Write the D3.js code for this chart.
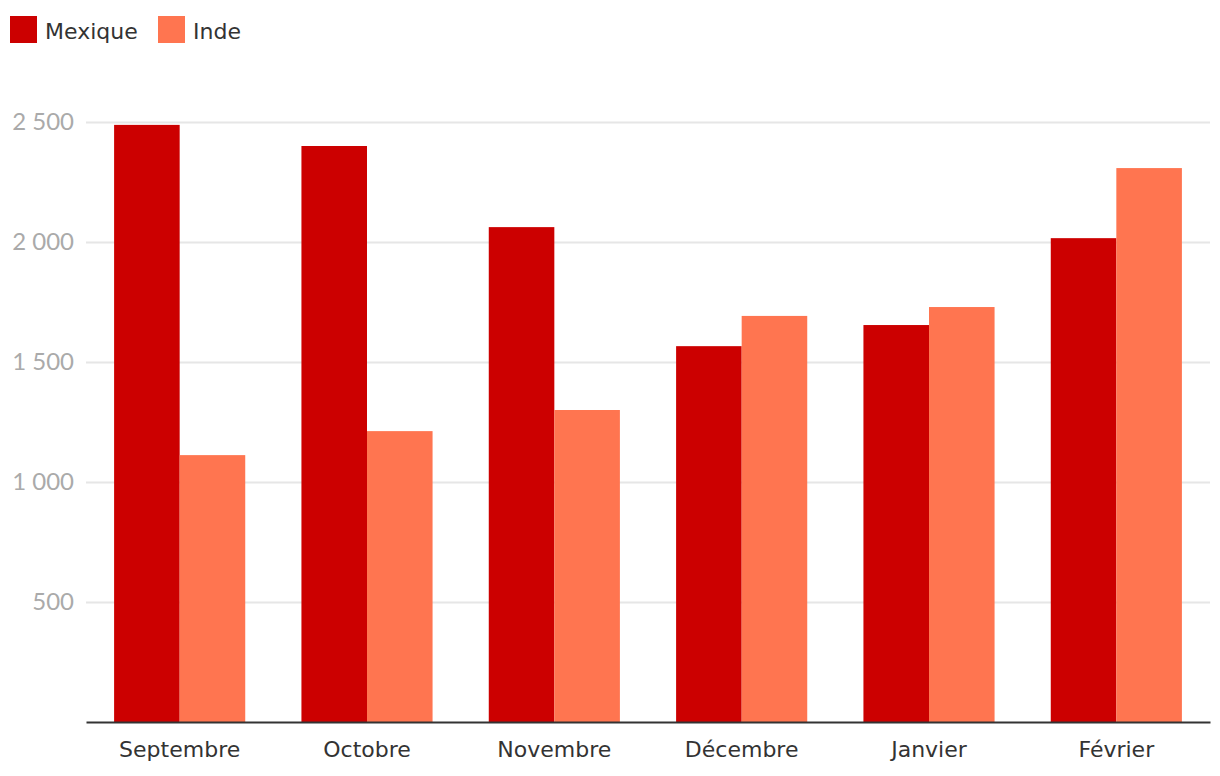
<!DOCTYPE html>
<html>
<head>
<meta charset="utf-8">
<script src="https://cdn.jsdelivr.net/npm/d3@7"></script>
<style>
  body { margin: 0; background: #fff; }
  .yTick text { font-family: Lato, sans-serif; font-size: 24px; fill: #aaa; }
  .xTick text { font-family: "DejaVu Sans", sans-serif; font-size: 22px; fill: #333; }
  .legendText { font-family: "DejaVu Sans", sans-serif; font-size: 22px; fill: #333; }
</style>
</head>
<body>
<div id="chart"></div>
<script>
// Data
var months = ["Septembre", "Octobre", "Novembre", "Décembre", "Janvier", "Février"];
var seriesNames = ["Mexique", "Inde"];
var mexique = [2488, 2400, 2062, 1566, 1654, 2016];
var inde = [1112, 1212, 1300, 1692, 1729, 2308];
var yTicks = [500, 1000, 1500, 2000, 2500];
var colors = ["#cc0000", "#ff7550"];

var svgWidth = 1220;
var svgHeight = 776;
var margin = { top: 122, right: 10, bottom: 54, left: 86 };
var width = svgWidth - margin.left - margin.right;
var height = svgHeight - margin.top - margin.bottom;

var svg = d3.select("#chart")
  .append("svg")
  .attr("width", svgWidth)
  .attr("height", svgHeight);

var chartGroup = svg.append("g")
  .attr("transform", `translate(${margin.left}, ${margin.top})`);

var data = months.map(function (m, i) {
  return { month: m, values: [mexique[i], inde[i]] };
});

// Scales
var x0 = d3.scaleBand()
  .domain(months)
  .range([0, width])
  .paddingInner(0.3)
  .paddingOuter(0.15);

var x1 = d3.scaleBand()
  .domain(seriesNames)
  .range([0, x0.bandwidth()]);

var y = d3.scaleLinear()
  .domain([0, 2500])
  .range([height, 0]);

// Gridlines + y labels
var yAxis = chartGroup.append("g")
  .attr("class", "yTick")
  .call(d3.axisLeft(y)
    .tickValues(yTicks)
    .tickSize(-width)
    .tickPadding(12)
    .tickFormat(function (d) { return d3.format(",")(d).replace(",", " "); }));
yAxis.select(".domain").remove();
yAxis.selectAll("line").attr("stroke", "#e6e6e6").attr("stroke-width", 2);

// Bars
var groups = chartGroup.selectAll("g.month")
  .data(data)
  .enter()
  .append("g")
  .attr("class", "month")
  .attr("transform", d => `translate(${x0(d.month)}, 0)`);

groups.selectAll("rect")
  .data(d => d.values.map((v, i) => ({ key: seriesNames[i], value: v, i: i })))
  .enter()
  .append("rect")
  .attr("x", d => x1(d.key))
  .attr("y", d => y(d.value))
  .attr("width", x1.bandwidth())
  .attr("height", d => height - y(d.value))
  .attr("fill", d => colors[d.i]);

// X axis
var xAxis = chartGroup.append("g")
  .attr("class", "xTick")
  .attr("transform", `translate(0, ${height})`)
  .call(d3.axisBottom(x0).tickSize(0).tickPadding(19));
xAxis.select(".domain").attr("stroke", "#333").attr("stroke-width", 2);

// Legend
var legend = svg.append("g").attr("transform", "translate(10, 16)");
var legendX = [0, 148];
seriesNames.forEach(function (name, i) {
  var g = legend.append("g").attr("transform", `translate(${legendX[i]}, 0)`);
  g.append("rect").attr("width", 27).attr("height", 27).attr("fill", colors[i]);
  g.append("text").attr("class", "legendText").attr("x", 35).attr("y", 23).text(name);
});
</script>
</body>
</html>
